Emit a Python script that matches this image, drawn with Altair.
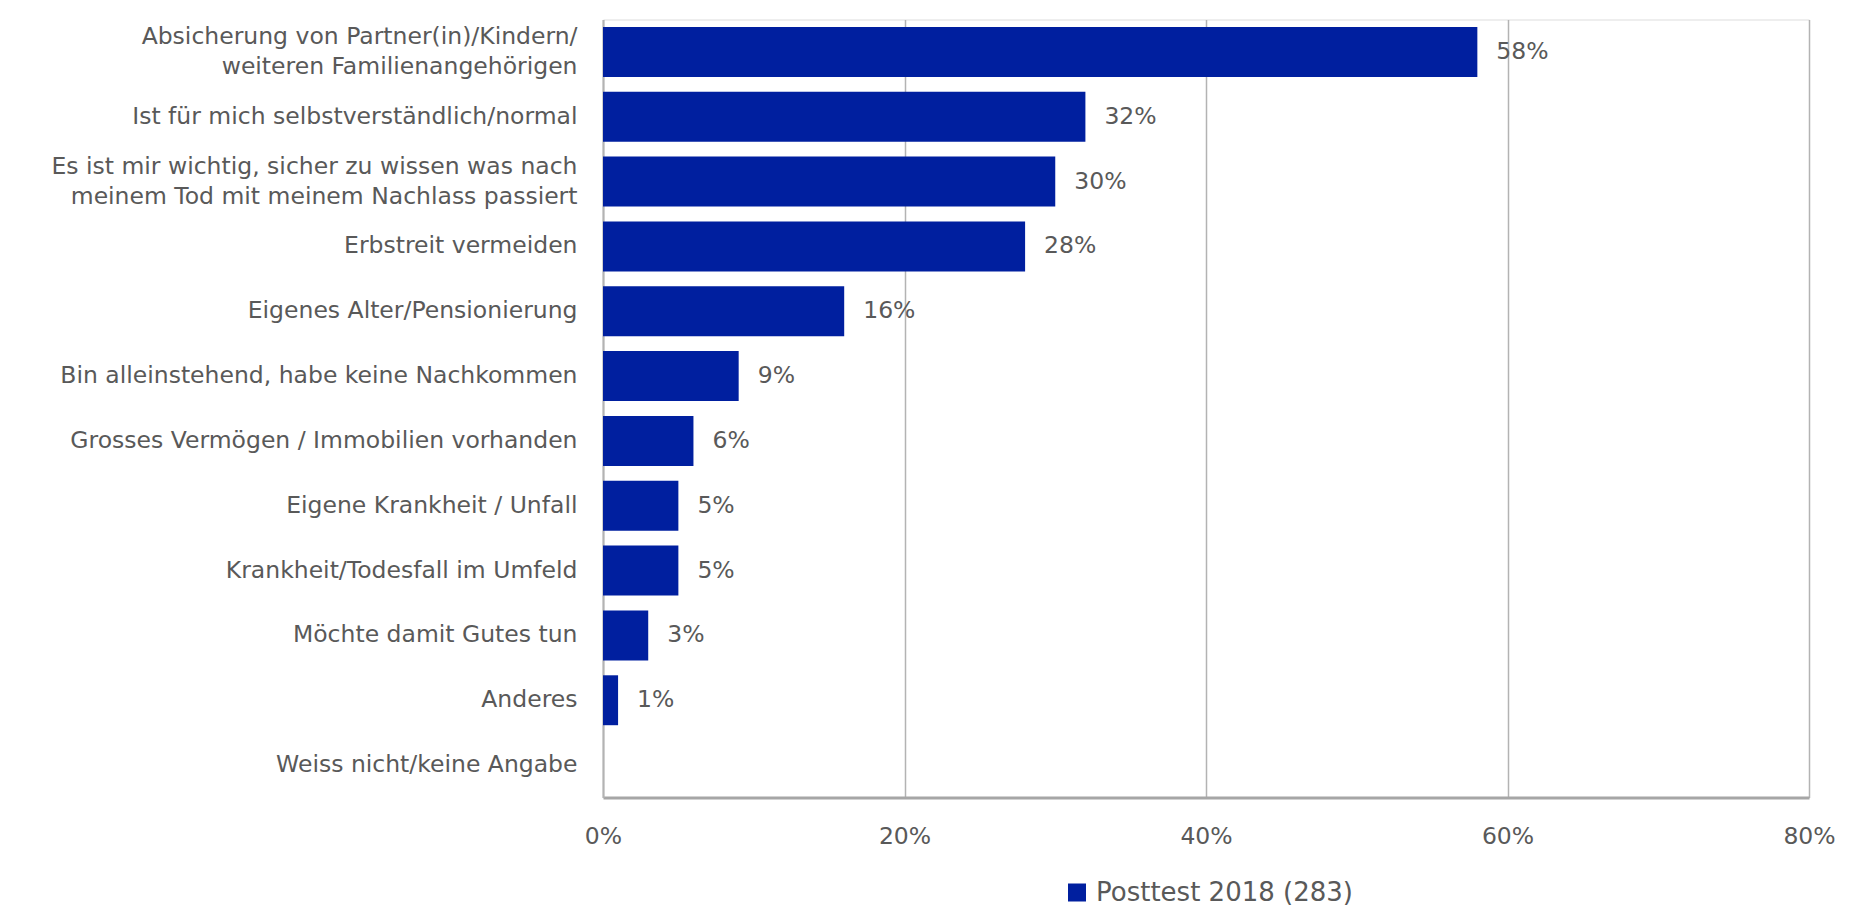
import altair as alt
import pandas as pd

categories = [
    "Absicherung von Partner(in)/Kindern/\nweiteren Familienangehörigen",
    "Ist für mich selbstverständlich/normal",
    "Es ist mir wichtig, sicher zu wissen was nach\nmeinem Tod mit meinem Nachlass passiert",
    "Erbstreit vermeiden",
    "Eigenes Alter/Pensionierung",
    "Bin alleinstehend, habe keine Nachkommen",
    "Grosses Vermögen / Immobilien vorhanden",
    "Eigene Krankheit / Unfall",
    "Krankheit/Todesfall im Umfeld",
    "Möchte damit Gutes tun",
    "Anderes",
    "Weiss nicht/keine Angabe",
]
values = [58, 32, 30, 28, 16, 9, 6, 5, 5, 3, 1, None]
series_name = "Posttest 2018 (283)"
tick_values = [0, 20, 40, 60, 80]

BLUE = "#001F9F"
TEXT = "#595959"
GRID = "#b3b3b3"
FONT = "DejaVu Sans"
FS = 23.5
LH = 30

df = pd.DataFrame({"category": categories, "value": values, "series": series_name})

y_enc = alt.Y(
    "category:N",
    sort=categories,
    scale=alt.Scale(paddingInner=0.23, paddingOuter=0.115),
    axis=alt.Axis(
        title=None, ticks=False, labelPadding=26, labelLimit=0,
        labelExpr="split(datum.label, '\\n')", labelLineHeight=LH,
        labelBaseline="middle",
        labelOffset={"condition": {"test": "indexof(datum.value, '\\n') >= 0", "value": -LH / 2}, "value": 0},
        labelFontSize=FS, labelColor=TEXT, labelFont=FONT,
        domainColor=GRID, domainWidth=2, grid=False,
    ),
)
x_enc = alt.X(
    "value:Q",
    scale=alt.Scale(domain=[0, 80], nice=False),
    axis=alt.Axis(
        title=None, values=tick_values, ticks=False, labelPadding=27,
        labelFlush=False,
        labelExpr="datum.value + '%'", labelFontSize=FS, labelColor=TEXT,
        labelFont=FONT, domainColor="#a6a6a6", domainWidth=3,
        grid=True, gridColor=GRID, gridWidth=1.5,
    ),
)

bars = alt.Chart(df).mark_bar().encode(
    x=x_enc,
    y=y_enc,
    color=alt.Color(
        "series:N",
        scale=alt.Scale(domain=[series_name], range=[BLUE]),
        legend=alt.Legend(
            title=None, orient="none", legendX=461, legendY=860,
            symbolType="square", symbolSize=324, symbolStrokeWidth=0,
            labelFontSize=26, labelColor=TEXT, labelFont=FONT, labelOffset=6,
            labelLimit=0,
        ),
    ),
)

labels = alt.Chart(df).transform_filter("datum.value != null").transform_calculate(
    label="datum.value + '%'"
).mark_text(
    align="left", baseline="middle", dx=19, fontSize=FS, color=TEXT, font=FONT
).encode(
    x=alt.X("value:Q"),
    y=alt.Y("category:N", sort=categories),
    text=alt.Text("label:N"),
)

chart = (
    alt.layer(bars, labels)
    .properties(
        width=1206, height=778,
        autosize=alt.AutoSizeParams(type="none"),
        padding={"left": 595, "top": 11.5, "right": 40, "bottom": 108},
        background="white",
    )
    .configure_view(stroke=GRID, strokeWidth=2)
    .configure(font=FONT)
)

chart.save("out.html", embed_options={"renderer": "svg", "actions": False})
